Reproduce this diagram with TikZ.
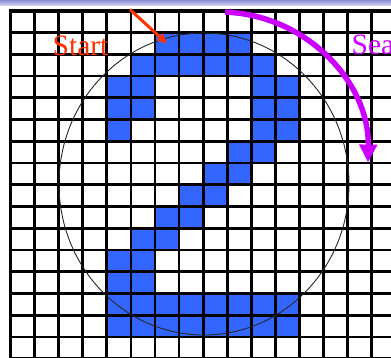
\documentclass[tikz,border=0pt]{standalone}
\usepackage{fontspec}
\setmainfont{Liberation Serif}
\usetikzlibrary{arrows.meta}
\definecolor{cellblue}{RGB}{51,102,255}
\definecolor{startred}{RGB}{255,51,0}
\definecolor{searchmag}{RGB}{204,0,255}
\definecolor{bandtop}{RGB}{140,140,212}
\definecolor{bandbot}{RGB}{205,205,240}
\tikzset{
  gridline/.style={line width=2.8pt, black},
  gridborder/.style={line width=3.6pt, black},
  cell/.style={fill=cellblue},
  bigcircle/.style={line width=0.9pt, black!85},
  startarrow/.style={line width=3pt, startred, -{Triangle[length=10pt,width=9pt]}},
  searcharrow/.style={line width=5.5pt, searchmag, -{Triangle[length=18pt,width=17pt]}},
  label/.style={inner sep=0pt, anchor=base west, font=\fontsize{29.5}{35}\selectfont}
}
\begin{document}
\begin{tikzpicture}[x=1pt,y=1pt]
\useasboundingbox (0,0) rectangle (391,-357);
\clip (0,0) rectangle (391,-357);
\fill[white] (0,0) rectangle (391,-357);
\shade[top color=bandtop, bottom color=bandbot] (0,0) rectangle (391,-5);
% blue cells of the digit
\foreach \c/\r in {6/1,7/1,8/1,9/1,
  5/2,6/2,7/2,8/2,9/2,10/2,
  4/3,5/3,10/3,11/3,
  4/4,5/4,10/4,11/4,
  4/5,10/5,11/5,
  9/6,10/6,
  8/7,9/7,
  7/8,8/8,
  6/9,7/9,
  5/10,6/10,
  4/11,5/11,
  4/12,5/12,
  4/13,5/13,6/13,7/13,8/13,9/13,10/13,11/13,
  4/14,5/14,6/14,7/14,8/14,9/14,10/14,11/14}
  \fill[cell] ({10.5+24.08*\c},{-(10.8+21.75*\r)}) rectangle ({10.5+24.08*(\c+1)},{-(10.8+21.75*(\r+1))});
% grid
\foreach \i in {1,...,16}
  \draw[gridline] ({10.5+24.08*\i},-10.8) -- ({10.5+24.08*\i},-362);
\foreach \j in {1,...,16}
  \draw[gridline] (10.5,{-(10.8+21.75*\j)}) -- (396,{-(10.8+21.75*\j)});
\draw[gridborder] (10.5,-362) -- (10.5,-10.8) -- (396,-10.8);
% circle
\coordinate (cc) at (204,-184);
\draw[bigcircle] (cc) ellipse [x radius=145pt, y radius=151pt];
% start arrow and label
\coordinate (sa) at (130,-9.5);
\coordinate (sb) at (167,-43.5);
\draw[startarrow] (sa) -- (sb);
\node[label, text=startred] (start) at (52.5,-55) {Start};
% search arrow and label
\coordinate (arcc) at (220,-160);
\draw[searcharrow] ([shift={(88:148pt)}]arcc) arc[start angle=88, end angle=-1, radius=148pt];
\node[label, text=searchmag] (search) at (351.5,-54.5) {Sea};
\end{tikzpicture}
\end{document}
